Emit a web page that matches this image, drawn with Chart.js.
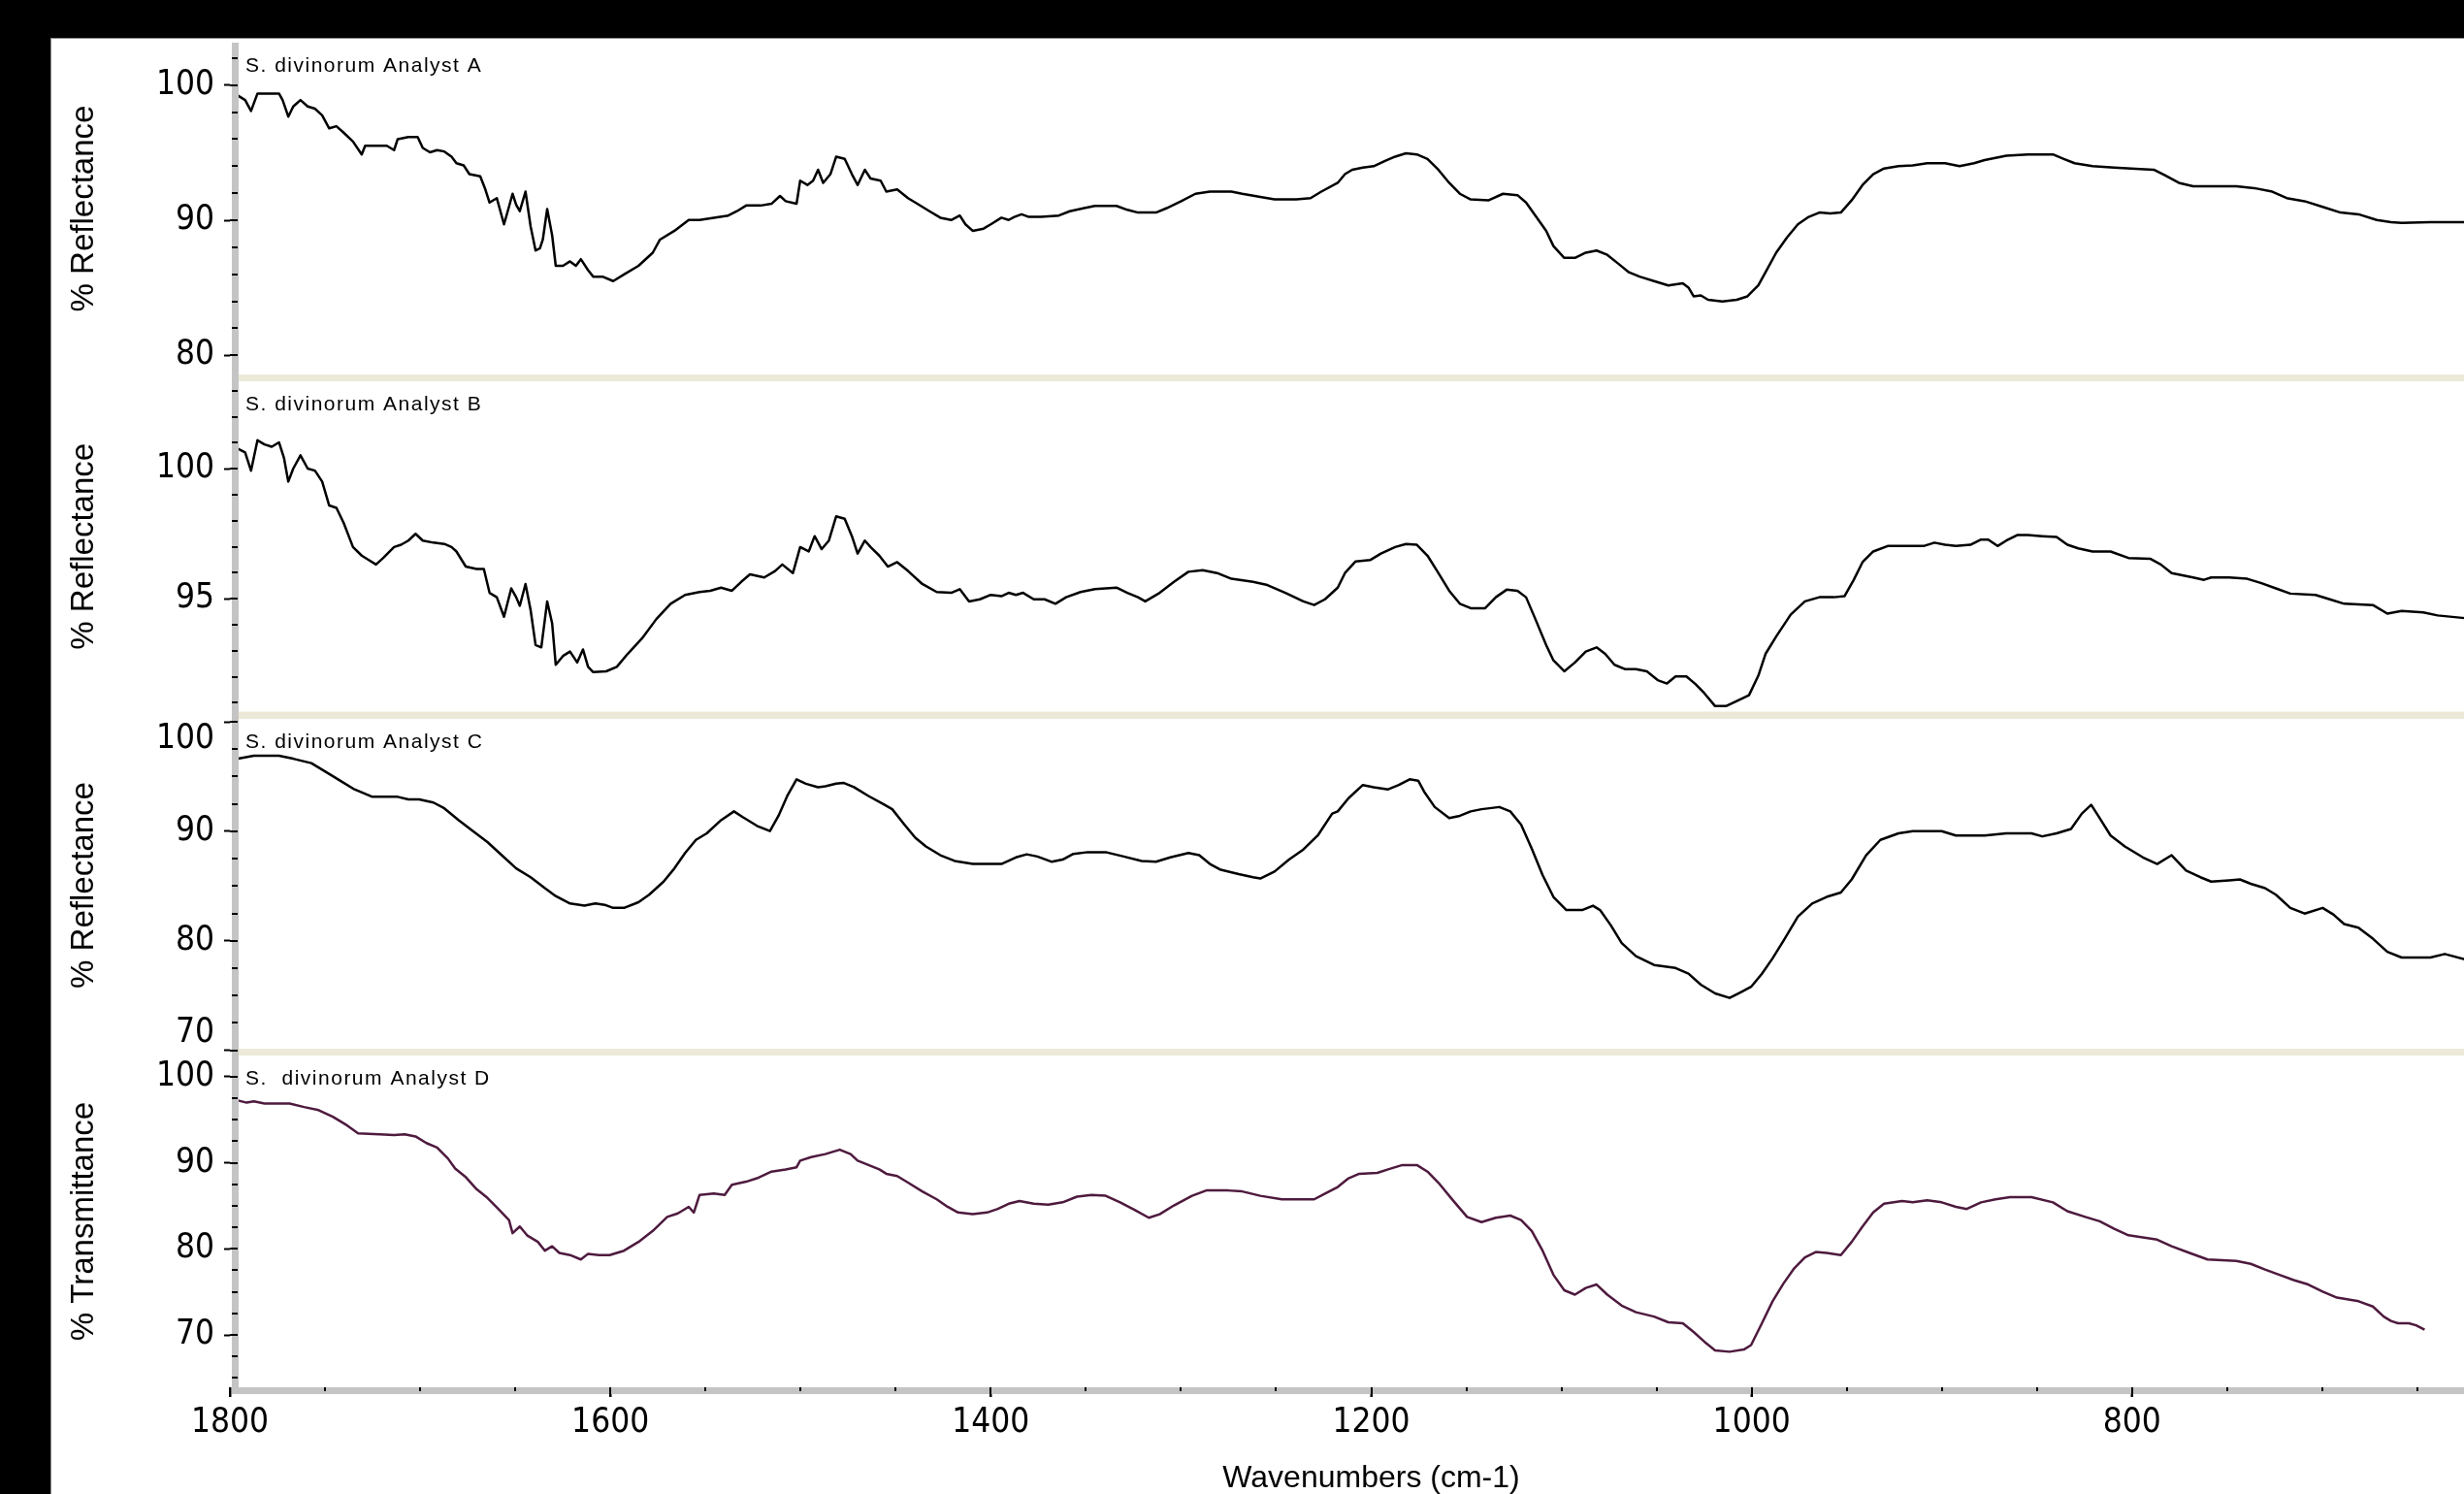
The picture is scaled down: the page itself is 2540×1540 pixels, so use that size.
<!DOCTYPE html>
<html>
<head>
<meta charset="utf-8">
<title>S. divinorum spectra</title>
<script src="https://cdn.jsdelivr.net/npm/chart.js@4/dist/chart.umd.min.js"></script>
<style>
  html, body { margin: 0; padding: 0; background: #000; width: 2540px; height: 1540px; overflow: hidden; }
  #sheet { position: absolute; left: 52px; top: 39px; width: 2488px; height: 1501px; background: #fff;
           border-top: 1px solid #8c8c8c; border-left: 1px solid #8c8c8c; box-sizing: border-box; }
  canvas { position: absolute; left: 0; }
</style>
</head>
<body>
<div id="sheet"></div>
<canvas id="panelA" width="2590" height="360" style="top:40px"></canvas>
<canvas id="panelB" width="2590" height="365" style="top:385px"></canvas>
<canvas id="panelC" width="2590" height="370" style="top:730px"></canvas>
<canvas id="panelD" width="2590" height="460" style="top:1080px"></canvas>
<script>
// ---- Spectrum A (% Reflectance) ----
const waveA = [1795.7,1792.0,1788.9,1785.5,1774.2,1772.3,1769.3,1766.7,1762.9,1759.1,1755.3,1751.5,1747.8,1744.0,1740.2,1735.3,1730.7,1728.9,1717.5,1713.7,1711.8,1706.2,1701.3,1698.6,1694.8,1691.1,1687.3,1683.5,1680.9,1677.1,1674.1,1668.4,1665.7,1663.5,1659.7,1655.9,1653.3,1651.4,1649.5,1647.6,1644.6,1641.9,1639.3,1637.0,1635.5,1633.2,1630.6,1628.7,1624.9,1621.2,1618.1,1615.5,1611.7,1609.0,1604.1,1598.5,1592.8,1585.2,1577.7,1573.9,1566.3,1558.8,1553.1,1545.6,1538.0,1533.5,1528.6,1521.0,1515.3,1510.8,1507.8,1502.1,1500.2,1496.4,1493.4,1490.8,1488.1,1484.3,1481.3,1476.8,1473.0,1470.0,1466.2,1463.2,1457.9,1454.9,1449.2,1443.5,1437.8,1432.2,1426.5,1420.8,1416.3,1413.3,1409.5,1403.8,1400.0,1394.4,1390.6,1387.6,1383.8,1380.0,1373.6,1364.2,1358.5,1350.9,1345.3,1333.9,1328.2,1322.6,1313.1,1307.5,1299.9,1292.4,1284.8,1273.5,1267.8,1258.3,1250.8,1239.4,1231.9,1226.2,1217.6,1213.8,1210.0,1204.4,1198.7,1193.0,1187.4,1181.7,1176.0,1170.4,1164.7,1159.0,1153.4,1147.7,1138.2,1130.7,1123.1,1118.6,1113.7,1108.0,1104.2,1098.5,1092.9,1087.2,1081.5,1075.9,1070.2,1064.5,1058.9,1051.3,1043.8,1036.2,1033.2,1030.5,1026.7,1022.9,1015.4,1007.8,1002.2,996.5,992.7,987.1,981.4,975.7,970.0,964.4,958.7,953.1,947.4,941.7,936.1,930.4,922.8,915.3,907.7,898.3,890.7,883.1,877.5,866.1,854.8,841.6,835.9,830.2,820.8,809.4,798.1,788.6,783.0,775.4,767.9,745.2,735.8,726.3,718.7,709.3,699.8,690.4,680.9,671.4,663.9,658.3,643.2,620.0];
const reflA = [99.22,98.90,98.09,99.38,99.38,98.90,97.67,98.42,98.90,98.42,98.26,97.77,96.80,96.96,96.48,95.83,94.87,95.51,95.51,95.19,96.00,96.16,96.16,95.35,95.03,95.19,95.09,94.70,94.22,94.06,93.41,93.25,92.28,91.31,91.64,89.70,90.99,91.96,91.15,90.67,92.12,89.54,87.76,87.93,88.57,90.83,88.89,86.63,86.63,86.96,86.63,87.12,86.31,85.83,85.83,85.50,85.99,86.63,87.60,88.57,89.22,90.02,90.02,90.19,90.35,90.67,91.09,91.09,91.22,91.80,91.41,91.22,92.93,92.61,92.93,93.74,92.77,93.41,94.70,94.54,93.41,92.61,93.74,93.09,92.93,92.12,92.28,91.64,91.15,90.67,90.19,90.02,90.35,89.70,89.22,89.38,89.70,90.19,90.02,90.25,90.44,90.25,90.25,90.35,90.67,90.90,91.06,91.06,90.77,90.57,90.57,90.90,91.41,91.96,92.12,92.12,91.96,91.73,91.54,91.54,91.64,92.12,92.77,93.41,93.74,93.90,94.00,94.38,94.71,94.96,94.87,94.54,93.74,92.77,91.96,91.54,91.48,91.96,91.86,91.31,90.35,89.22,88.09,87.22,87.22,87.60,87.76,87.44,86.80,86.15,85.83,85.50,85.18,85.34,85.02,84.37,84.44,84.12,83.99,84.12,84.37,85.18,86.15,87.60,88.73,89.70,90.25,90.57,90.51,90.57,91.48,92.61,93.41,93.83,94.00,94.06,94.22,94.22,94.00,94.22,94.45,94.77,94.87,94.87,94.54,94.22,94.00,93.90,93.80,93.74,93.35,92.77,92.51,92.51,92.38,92.12,91.64,91.41,90.99,90.57,90.44,90.02,89.86,89.80,89.86,89.86];

// ---- Spectrum B (% Reflectance) ----
const waveB = [1795.7,1792.0,1788.9,1785.5,1781.8,1778.0,1774.2,1771.6,1769.3,1766.7,1762.9,1759.1,1755.3,1751.5,1747.8,1744.0,1740.2,1735.3,1730.7,1727.0,1723.2,1719.4,1713.7,1710.0,1706.2,1702.4,1698.6,1693.0,1687.3,1683.5,1680.9,1676.0,1670.3,1666.5,1663.5,1659.7,1655.9,1652.1,1649.5,1647.6,1644.6,1641.9,1639.3,1636.3,1633.2,1630.6,1628.7,1624.9,1621.2,1617.4,1614.4,1611.7,1609.0,1602.2,1596.6,1590.9,1583.4,1575.8,1568.3,1560.7,1553.1,1547.5,1541.8,1536.1,1531.2,1526.6,1519.1,1513.4,1509.6,1504.0,1500.2,1495.7,1492.6,1488.9,1485.1,1481.3,1476.8,1473.0,1470.0,1466.2,1463.2,1458.6,1454.1,1449.2,1443.5,1436.0,1428.4,1420.8,1416.3,1411.4,1405.7,1400.0,1394.4,1390.6,1386.8,1383.0,1377.4,1371.7,1366.0,1360.4,1352.8,1345.3,1333.9,1328.2,1322.6,1318.8,1311.2,1303.7,1296.1,1288.6,1281.0,1273.5,1262.1,1254.6,1245.1,1235.7,1230.0,1224.3,1217.6,1213.8,1208.2,1200.6,1194.9,1187.4,1181.7,1176.0,1170.4,1164.7,1159.0,1153.4,1147.7,1140.1,1134.5,1128.8,1123.1,1118.6,1113.7,1108.0,1104.2,1098.5,1092.9,1087.2,1081.5,1077.0,1072.1,1066.4,1060.8,1055.1,1049.4,1044.5,1040.0,1034.3,1029.4,1024.9,1019.2,1013.5,1007.8,1001.4,996.5,992.7,987.1,979.5,972.0,964.4,956.8,951.2,946.3,941.7,936.1,928.5,919.0,909.6,903.9,898.3,892.6,885.0,879.4,875.6,870.7,866.1,860.4,854.8,847.2,839.7,834.0,828.3,820.8,811.3,801.9,790.5,784.9,779.2,767.9,762.2,758.4,749.0,739.5,732.0,724.4,716.8,703.6,696.1,688.5,673.4,665.8,658.3,646.9,639.4,620.0];
const reflB = [100.77,100.63,99.93,101.10,100.94,100.85,101.02,100.43,99.51,100.01,100.52,100.01,99.93,99.51,98.59,98.50,97.92,96.99,96.66,96.49,96.32,96.57,96.99,97.08,97.24,97.50,97.24,97.16,97.11,96.99,96.82,96.24,96.15,96.15,95.23,95.06,94.31,95.40,95.06,94.73,95.57,94.56,93.22,93.13,94.90,94.06,92.46,92.80,92.97,92.55,93.05,92.38,92.18,92.21,92.38,92.88,93.47,94.22,94.81,95.15,95.26,95.31,95.43,95.31,95.65,95.94,95.82,96.07,96.32,95.99,96.99,96.82,97.41,96.91,97.24,98.17,98.08,97.41,96.74,97.24,96.99,96.66,96.24,96.41,96.07,95.57,95.26,95.23,95.37,94.90,94.98,95.15,95.10,95.23,95.15,95.23,94.98,94.98,94.81,95.06,95.26,95.37,95.43,95.23,95.06,94.90,95.23,95.65,96.04,96.10,95.99,95.77,95.65,95.53,95.23,94.90,94.76,94.98,95.43,95.99,96.44,96.49,96.74,96.99,97.11,97.08,96.66,95.99,95.31,94.81,94.64,94.64,95.06,95.35,95.31,95.06,94.22,93.22,92.63,92.21,92.55,92.97,93.13,92.88,92.46,92.29,92.29,92.21,91.87,91.74,92.01,92.01,91.71,91.37,90.87,90.87,91.07,91.29,92.04,92.88,93.55,94.39,94.90,95.06,95.06,95.10,95.73,96.41,96.82,97.03,97.03,97.03,97.16,97.08,97.03,97.08,97.28,97.28,97.03,97.24,97.45,97.45,97.41,97.38,97.08,96.94,96.82,96.82,96.57,96.54,96.32,95.99,95.82,95.73,95.82,95.82,95.77,95.60,95.40,95.20,95.15,94.98,94.81,94.76,94.43,94.53,94.48,94.36,94.22];

// ---- Spectrum C (% Reflectance) ----
const waveC = [1795.7,1787.4,1774.2,1766.7,1757.2,1749.6,1742.1,1734.5,1725.1,1711.8,1706.2,1700.5,1693.0,1687.3,1679.7,1672.2,1664.6,1657.1,1649.5,1641.9,1634.4,1628.7,1621.2,1613.6,1607.9,1603.0,1598.5,1592.8,1585.2,1579.6,1572.0,1566.3,1560.7,1555.0,1549.3,1541.8,1535.0,1530.4,1522.9,1516.1,1511.6,1507.0,1502.1,1497.2,1490.8,1487.0,1481.3,1477.5,1471.9,1464.3,1456.7,1451.8,1445.4,1439.7,1434.1,1426.5,1419.0,1409.5,1394.4,1386.8,1381.1,1375.5,1367.9,1362.2,1356.6,1349.0,1339.6,1330.1,1320.7,1313.1,1305.6,1296.1,1290.4,1284.8,1279.1,1269.7,1262.1,1258.3,1250.8,1243.2,1235.7,1228.1,1220.5,1217.6,1211.9,1204.4,1198.7,1191.1,1185.5,1179.8,1175.3,1172.2,1166.6,1159.0,1153.4,1147.7,1142.0,1132.6,1126.9,1121.2,1115.6,1109.9,1104.2,1097.4,1089.1,1083.4,1079.7,1074.0,1068.3,1060.8,1051.3,1040.0,1033.2,1026.7,1019.2,1011.6,1006.0,1000.3,994.6,989.0,983.3,975.7,968.2,960.6,953.1,947.4,939.8,932.3,922.8,915.3,900.1,892.6,877.5,866.1,852.9,847.2,839.7,832.1,826.4,821.5,817.8,811.3,803.8,794.3,786.8,779.2,771.6,764.1,758.4,749.0,743.3,737.6,730.1,724.4,716.8,709.3,699.8,694.2,688.5,681.0,673.4,665.8,658.3,650.7,643.2,635.6,620.0];
const reflC = [96.63,96.91,96.91,96.63,96.23,95.43,94.63,93.83,93.15,93.15,92.91,92.91,92.63,92.10,91.02,90.02,89.02,87.82,86.62,85.81,84.81,84.09,83.41,83.21,83.41,83.29,83.01,83.01,83.53,84.21,85.41,86.62,88.02,89.22,89.82,91.02,91.82,91.30,90.50,90.02,91.42,93.23,94.75,94.35,94.03,94.11,94.35,94.43,94.03,93.23,92.50,92.02,90.62,89.42,88.62,87.82,87.30,87.02,87.02,87.62,87.90,87.70,87.22,87.42,87.94,88.10,88.10,87.70,87.30,87.22,87.62,88.02,87.82,87.02,86.49,86.09,85.81,85.69,86.33,87.42,88.34,89.62,91.62,91.82,93.03,94.23,94.03,93.83,94.23,94.75,94.63,93.63,92.22,91.22,91.42,91.82,92.02,92.22,91.82,90.62,88.42,86.01,84.01,82.81,82.81,83.21,82.81,81.41,79.80,78.60,77.80,77.52,77.00,76.00,75.20,74.79,75.28,75.80,77.00,78.40,80.00,82.21,83.41,84.01,84.41,85.61,87.82,89.22,89.82,90.02,90.02,89.62,89.62,89.82,89.82,89.54,89.82,90.22,91.62,92.42,91.42,89.62,88.62,87.62,87.02,87.82,86.41,85.81,85.41,85.53,85.61,85.21,84.81,84.21,83.01,82.49,83.01,82.41,81.53,81.20,80.20,79.00,78.48,78.48,78.48,78.80,78.08];

// ---- Spectrum D (% Transmittance) ----
const waveD = [1795.7,1791.2,1787.4,1781.8,1768.6,1761.0,1753.4,1745.9,1738.3,1732.6,1721.3,1713.7,1708.1,1702.4,1696.7,1691.1,1685.4,1681.6,1675.9,1670.3,1664.6,1658.9,1653.3,1651.4,1647.6,1643.8,1638.1,1634.4,1630.6,1626.8,1621.2,1615.5,1611.7,1606.0,1600.4,1592.8,1585.2,1577.7,1570.1,1564.5,1558.8,1556.1,1553.1,1545.6,1539.9,1536.1,1528.6,1522.9,1515.3,1507.8,1502.1,1500.2,1494.5,1487.0,1479.4,1473.7,1470.0,1464.3,1458.6,1454.9,1449.2,1443.5,1436.0,1428.4,1422.7,1417.2,1409.5,1401.9,1396.3,1390.6,1384.9,1377.4,1369.8,1362.2,1354.7,1347.1,1339.6,1332.0,1324.4,1316.9,1311.2,1303.7,1294.2,1286.7,1275.3,1267.8,1258.3,1247.0,1230.0,1224.3,1217.6,1211.9,1206.3,1196.8,1191.1,1183.6,1176.0,1170.4,1164.7,1157.1,1149.6,1142.0,1134.5,1126.9,1121.2,1115.6,1109.9,1104.2,1098.5,1092.9,1087.2,1081.5,1075.9,1068.3,1060.8,1051.3,1043.8,1036.2,1030.5,1024.9,1019.2,1011.6,1004.1,1000.3,994.6,989.0,983.3,977.6,972.0,966.3,960.6,953.1,947.4,941.7,936.1,930.4,920.9,915.3,907.7,900.1,892.6,886.9,879.4,871.8,864.2,852.9,841.6,834.0,824.6,817.0,809.4,801.9,786.8,779.2,769.8,760.3,745.2,737.6,730.1,722.5,715.0,707.4,699.8,692.3,680.9,673.4,667.7,663.9,660.2,654.5,650.7,646.2];
const transD = [97.25,97.00,97.15,96.90,96.90,96.49,96.13,95.36,94.34,93.42,93.32,93.22,93.32,93.07,92.30,91.79,90.51,89.34,88.32,86.94,85.92,84.64,83.36,81.83,82.60,81.58,80.81,79.79,80.30,79.53,79.28,78.77,79.43,79.28,79.28,79.79,80.81,82.09,83.72,84.13,84.89,84.23,86.27,86.43,86.27,87.45,87.81,88.21,88.98,89.24,89.49,90.26,90.67,91.02,91.53,91.02,90.26,89.75,89.24,88.73,88.47,87.70,86.68,85.76,84.89,84.23,84.03,84.23,84.64,85.25,85.56,85.25,85.15,85.41,86.07,86.27,86.17,85.41,84.53,83.62,84.03,85.05,86.17,86.79,86.79,86.68,86.17,85.76,85.76,86.43,87.19,88.21,88.73,88.83,89.24,89.75,89.75,88.98,87.70,85.66,83.72,83.11,83.62,83.87,83.36,82.09,79.79,76.98,75.19,74.68,75.45,75.86,74.68,73.41,72.64,72.13,71.47,71.36,70.34,69.22,68.20,68.04,68.30,68.81,71.36,73.91,75.96,77.75,79.02,79.64,79.53,79.28,80.81,82.60,84.23,85.25,85.56,85.41,85.66,85.41,84.89,84.64,85.41,85.76,86.02,86.02,85.41,84.38,83.72,83.21,82.34,81.58,81.07,80.30,79.53,78.77,78.61,78.26,77.59,76.98,76.37,75.86,75.04,74.33,73.91,73.30,72.13,71.62,71.36,71.36,71.11,70.60];

// ---- Axis ticks ----
const xTicks = [600,650,700,750,800,850,900,950,1000,1050,1100,1150,1200,1250,1300,1350,1400,1450,1500,1550,1600,1650,1700,1750,1800];
const xLabelled = [800,1000,1200,1400,1600,1800];
const yTicksA = [80,82,84,86,88,90,92,94,96,98,100,102];
const yLabelsA = [80,90,100];
const yTicksB = [91,92,93,94,95,96,97,98,99,100,101,102,103];
const yLabelsB = [95,100];
const yTicksC = [70,72.5,75,77.5,80,82.5,85,87.5,90,92.5,95,97.5,100];
const yLabelsC = [70,80,90,100];
const yTicksD = [65,67.5,70,72.5,75,77.5,80,82.5,85,87.5,90,92.5,95,97.5,100];
const yLabelsD = [70,80,90,100];

const NARROW = "'Liberation Sans Narrow', 'Arial Narrow', 'DejaVu Sans Condensed', sans-serif";
const SANS = "'Liberation Sans', Arial, sans-serif";
const AXIS_LEFT = 237;      // x pixel of 1800 cm-1 / left edge of the plot area
const BAR_X = 239, BAR_W = 7;

// Gray axis bars, tick marks on the bars, separators and panel captions
const panelDecor = {
  id: 'panelDecor',
  afterDatasetsDraw(chart, args, o) {
    const {ctx, chartArea} = chart;
    const ys = chart.scales.y;
    ctx.save();
    if (o.sepTop != null) {
      ctx.fillStyle = '#ECE9D8';
      ctx.fillRect(BAR_X + BAR_W, o.sepTop, chart.width, o.sepBottom - o.sepTop);
    }
    ctx.fillStyle = '#C4C4C4';
    ctx.fillRect(BAR_X, chartArea.top, BAR_W, o.barBottom - chartArea.top);
    if (o.xBar) ctx.fillRect(BAR_X, chartArea.bottom, chart.width, BAR_W);
    ctx.fillStyle = '#000';
    ys.ticks.forEach(t => {
      const p = Math.round(ys.getPixelForValue(t.value));
      const major = o.yMajor.includes(t.value);
      const x0 = major ? chartArea.left : BAR_X;
      ctx.fillRect(x0, p - 1, BAR_X + BAR_W - 1 - x0, 2);
    });
    if (o.xBar) {
      const xs = chart.scales.x;
      xs.ticks.forEach(t => {
        const p = Math.round(xs.getPixelForValue(t.value));
        const major = xLabelled.includes(t.value);
        ctx.fillRect(p - 1, chartArea.bottom, 2, major ? 10 : 4);
      });
    }
    ctx.font = "21px " + SANS;
    ctx.letterSpacing = '1.5px';
    ctx.textBaseline = 'alphabetic';
    ctx.textAlign = 'left';
    ctx.fillText(o.caption, 253, chartArea.top + 30);
    ctx.restore();
  }
};

function makePanel(id, p) {
  const points = p.wave.map((w, i) => ({x: w, y: p.values[i]}));
  const el = document.getElementById(id);
  const showX = !!p.xAxis;
  return new Chart(el, {
    type: 'line',
    data: { datasets: [{ data: points, borderColor: p.color, borderWidth: 2.5, pointRadius: 0,
                         tension: 0, fill: false, borderJoinStyle: 'round' }] },
    plugins: [panelDecor],
    options: {
      responsive: false, animation: false, devicePixelRatio: 1,
      layout: { padding: { top: p.padTop, bottom: showX ? 0 : p.padBottom, left: 0, right: 0 } },
      plugins: {
        legend: { display: false }, tooltip: { enabled: false },
        panelDecor: { caption: p.caption, yMajor: p.yLabels, sepTop: p.sepTop, sepBottom: p.sepBottom,
                      barBottom: p.barBottom, xBar: showX }
      },
      scales: {
        x: {
          type: 'linear', reverse: true, min: 600, max: 1800, display: showX,
          afterBuildTicks: s => { s.ticks = xTicks.map(v => ({value: v})); },
          afterFit: s => { s.height = showX ? 110 : 0; s.paddingLeft = 0; s.paddingRight = 0; },
          border: { display: false },
          grid: { drawOnChartArea: false, drawTicks: true, tickLength: 10, tickWidth: 2,
                  tickColor: c => (c.tick && xLabelled.includes(c.tick.value)) ? '#000' : 'rgba(0,0,0,0)' },
          ticks: { autoSkip: false, maxRotation: 0, minRotation: 0, padding: 6, color: '#000',
                   font: { family: NARROW, size: 35 },
                   callback: v => xLabelled.includes(v) ? String(v) : '' },
          title: { display: true, text: 'Wavenumbers (cm-1)', color: '#000',
                   font: { family: SANS, size: 32, lineHeight: 1 }, padding: { top: 0, bottom: 0 } }
        },
        y: {
          type: 'linear', min: p.min, max: p.max,
          afterBuildTicks: s => { s.ticks = p.yTicks.map(v => ({value: v})); },
          afterFit: s => { s.width = AXIS_LEFT; s.paddingTop = 0; s.paddingBottom = 0; },
          border: { display: false },
          grid: { drawOnChartArea: false, drawTicks: true, tickLength: 6, tickWidth: 2,
                  tickColor: c => (c.tick && p.yLabels.includes(c.tick.value)) ? '#000' : 'rgba(0,0,0,0)' },
          ticks: { autoSkip: false, padding: 10, color: '#000',
                   font: { family: NARROW, size: 35, lineHeight: 1 },
                   callback: v => p.yLabels.includes(v) ? (p.labelShift && p.labelShift[v] ? p.labelShift[v] : String(v)) : '' },
          title: { display: true, text: p.title, color: '#000',
                   font: { family: SANS, size: 33, lineHeight: 1 }, padding: { top: 70, bottom: 0 } }
        }
      }
    }
  });
}

makePanel('panelA', { wave: waveA, values: reflA, color: '#000000', caption: 'S. divinorum Analyst A',
  title: '% Reflectance', min: 78.59, max: 103.14, yTicks: yTicksA, yLabels: yLabelsA,
  padTop: 4, padBottom: 14, sepTop: 346, sepBottom: 353, barBottom: 353 });

makePanel('panelB', { wave: waveB, values: reflB, color: '#000000', caption: 'S. divinorum Analyst B',
  title: '% Reflectance', min: 90.66, max: 103.37, yTicks: yTicksB, yLabels: yLabelsB,
  padTop: 8, padBottom: 16.5, sepTop: 348.5, sepBottom: 356, barBottom: 356 });

makePanel('panelC', { wave: waveC, values: reflC, color: '#000000', caption: 'S. divinorum Analyst C',
  title: '% Reflectance', min: 69.885, max: 100.27, yTicks: yTicksC, yLabels: yLabelsC,
  labelShift: { 100: ['', '100'], 70: ['70', ''] },
  padTop: 11, padBottom: 16, sepTop: 351, sepBottom: 358, barBottom: 358 });

makePanel('panelD', { wave: waveD, values: transD, color: '#4E1A3E', caption: 'S.  divinorum Analyst D',
  title: '% Transmittance', min: 63.91, max: 102.48, yTicks: yTicksD, yLabels: yLabelsD,
  padTop: 8, barBottom: 357, xAxis: true });
</script>
</body>
</html>
